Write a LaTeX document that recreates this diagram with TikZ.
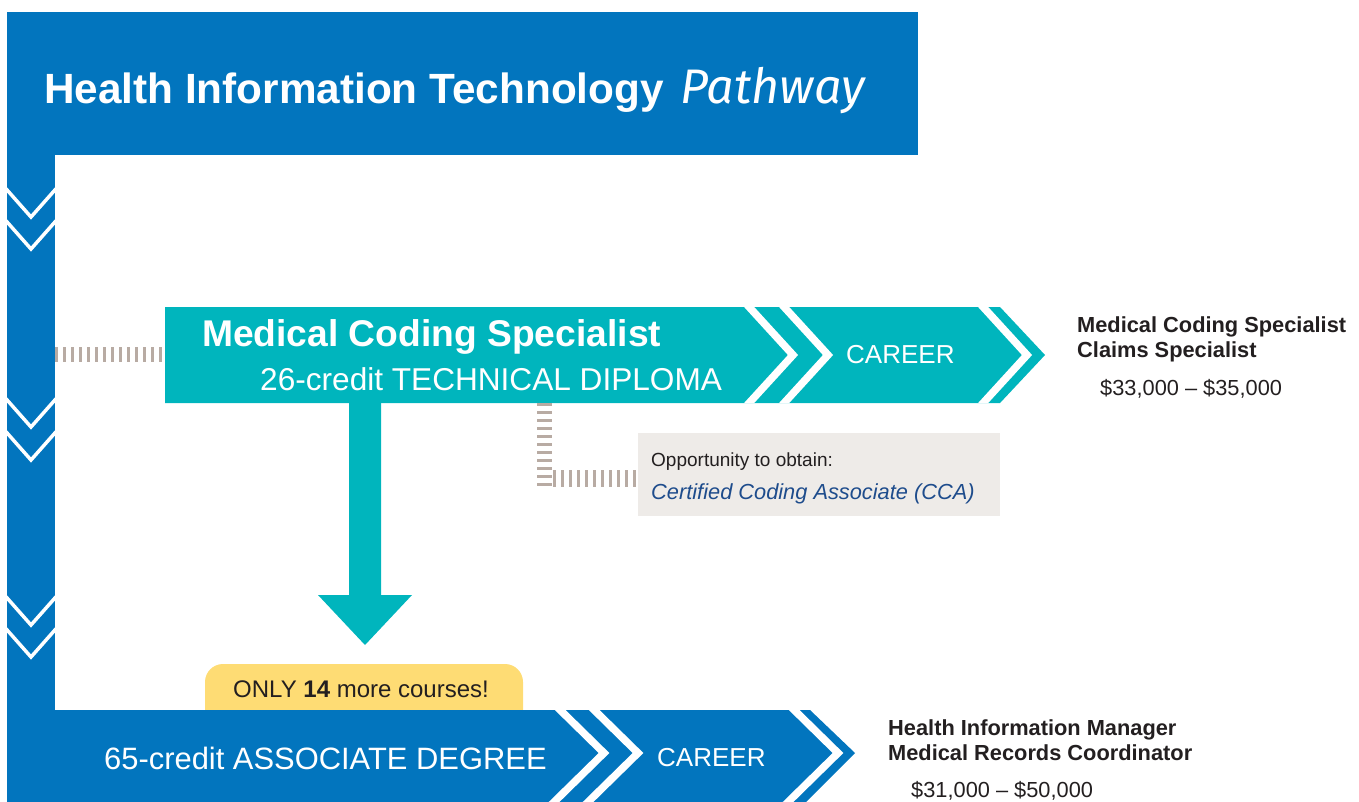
\documentclass[tikz,border=0pt]{standalone}
\usepackage{fontspec}
\setmainfont{Liberation Sans}
\newfontfamily\pathfont{Fira Sans}
\definecolor{hitblue}{RGB}{2,117,190}
\definecolor{hitteal}{RGB}{0,181,189}
\definecolor{dotgray}{RGB}{184,171,163}
\definecolor{boxgray}{RGB}{238,235,232}
\definecolor{tabyellow}{RGB}{254,220,116}
\definecolor{txtdark}{RGB}{35,31,32}
\definecolor{ccablue}{RGB}{30,76,140}
\newcommand{\fsz}[1]{\fontsize{#1}{#1}\selectfont}
\begin{document}
\begin{tikzpicture}[x=1pt,y=-1pt,
  txt/.style={inner sep=0pt, anchor=base west},
  chev/.style={white, line width=3.5pt},
  strip/.style={white, line width=7.5pt},
  dots/.style={dotgray, line width=15pt, dash pattern=on 3pt off 5pt}]
\useasboundingbox (0,0) rectangle (1359,802);
\clip (0,0) rectangle (1359,802);

% banner and left bar
\fill[hitblue] (7,12) rectangle (918,155);
\begin{scope}
  \clip (7,150) rectangle (55,715);
  \fill[hitblue] (7,150) rectangle (55,715);
  \foreach \yy in {190,222,400,433,598,630}
    \draw[chev] (0,\yy-8) -- (31,\yy+27) -- (62,\yy-8);
\end{scope}

% yellow tab
\fill[tabyellow, rounded corners=18pt] (205,730) -- (205,664) -- (523,664) -- (523,730) -- cycle;

% bottom bar
\begin{scope}
  \clip (7,710) -- (810,710) -- (855,753) -- (806,802) -- (7,802) -- cycle;
  \fill[hitblue] (7,700) rectangle (870,810);
  \draw[strip] (550,700) -- (604,753) -- (550,806);
  \draw[strip] (584,700) -- (638,753) -- (584,806);
  \draw[strip] (784,700) -- (838,753) -- (784,806);
\end{scope}

% teal bar
\begin{scope}
  \clip (165,307) -- (1000,307) -- (1045,355) -- (1000,403) -- (165,403) -- cycle;
  \fill[hitteal] (160,300) rectangle (1050,410);
  \draw[strip] (740,297) -- (793,355) -- (740,413);
  \draw[strip] (775,297) -- (828,355) -- (775,413);
  \draw[strip] (974,297) -- (1027,355) -- (974,413);
\end{scope}

% down arrow
\fill[hitteal] (349,403) -- (381,403) -- (381,595) -- (412,595) -- (365,645) -- (318,595) -- (349,595) -- cycle;

% gray box
\fill[boxgray] (638,433) rectangle (1000,516);

% anchors
\coordinate (barR) at (55,354);
\coordinate (tealL) at (165,354);
\coordinate (tealB) at (544.5,403);
\coordinate (corner) at (544.5,487);
\coordinate (hstart) at (553,478);
\coordinate (boxL) at (638,478);

% dotted connectors
\draw[dots] (barR) -- (tealL);
\draw[dots] (tealB) -- (corner);
\draw[dots, line width=17pt] (hstart) -- (boxL);

% texts
\node[txt, white, font=\bfseries\fsz{42.3}] (title) at (44,104) {Health Information Technology};
\node[txt, white, font=\pathfont\itshape\fsz{48.5}] (path) at (680,104) {Pathway};

\node[txt, white, font=\bfseries\fsz{37.2}] (mcs) at (202,346) {Medical Coding Specialist};
\node[txt, white, font=\fsz{31.6}] (diploma) at (260,390) {26-credit TECHNICAL DIPLOMA};
\node[txt, white, font=\fsz{26}] (career1) at (846,363) {CAREER};

\node[txt, txtdark, font=\bfseries\fsz{21.8}] (job1) at (1077,332) {Medical Coding Specialist};
\node[txt, txtdark, font=\bfseries\fsz{21.8}] (job2) at (1077,357) {Claims Specialist};
\node[txt, txtdark, font=\fsz{21.8}] (sal1) at (1100,395) {\$33,000 – \$35,000};

\node[txt, txtdark, font=\fsz{19}] (opp) at (651,466) {Opportunity to obtain:};
\node[txt, ccablue, font=\itshape\fsz{21.8}] (cca) at (651,499) {Certified Coding Associate (CCA)};

\node[txt, txtdark, font=\fsz{24}] (only) at (233,697) {ONLY \textbf{14} more courses!};

\node[txt, white, font=\fsz{30.9}] (assoc) at (104,769) {65-credit ASSOCIATE DEGREE};
\node[txt, white, font=\fsz{26}] (career2) at (657,766) {CAREER};

\node[txt, txtdark, font=\bfseries\fsz{21.8}] (job3) at (888,735) {Health Information Manager};
\node[txt, txtdark, font=\bfseries\fsz{21.8}] (job4) at (888,760) {Medical Records Coordinator};
\node[txt, txtdark, font=\fsz{21.8}] (sal2) at (911,797) {\$31,000 – \$50,000};
\end{tikzpicture}
\end{document}
